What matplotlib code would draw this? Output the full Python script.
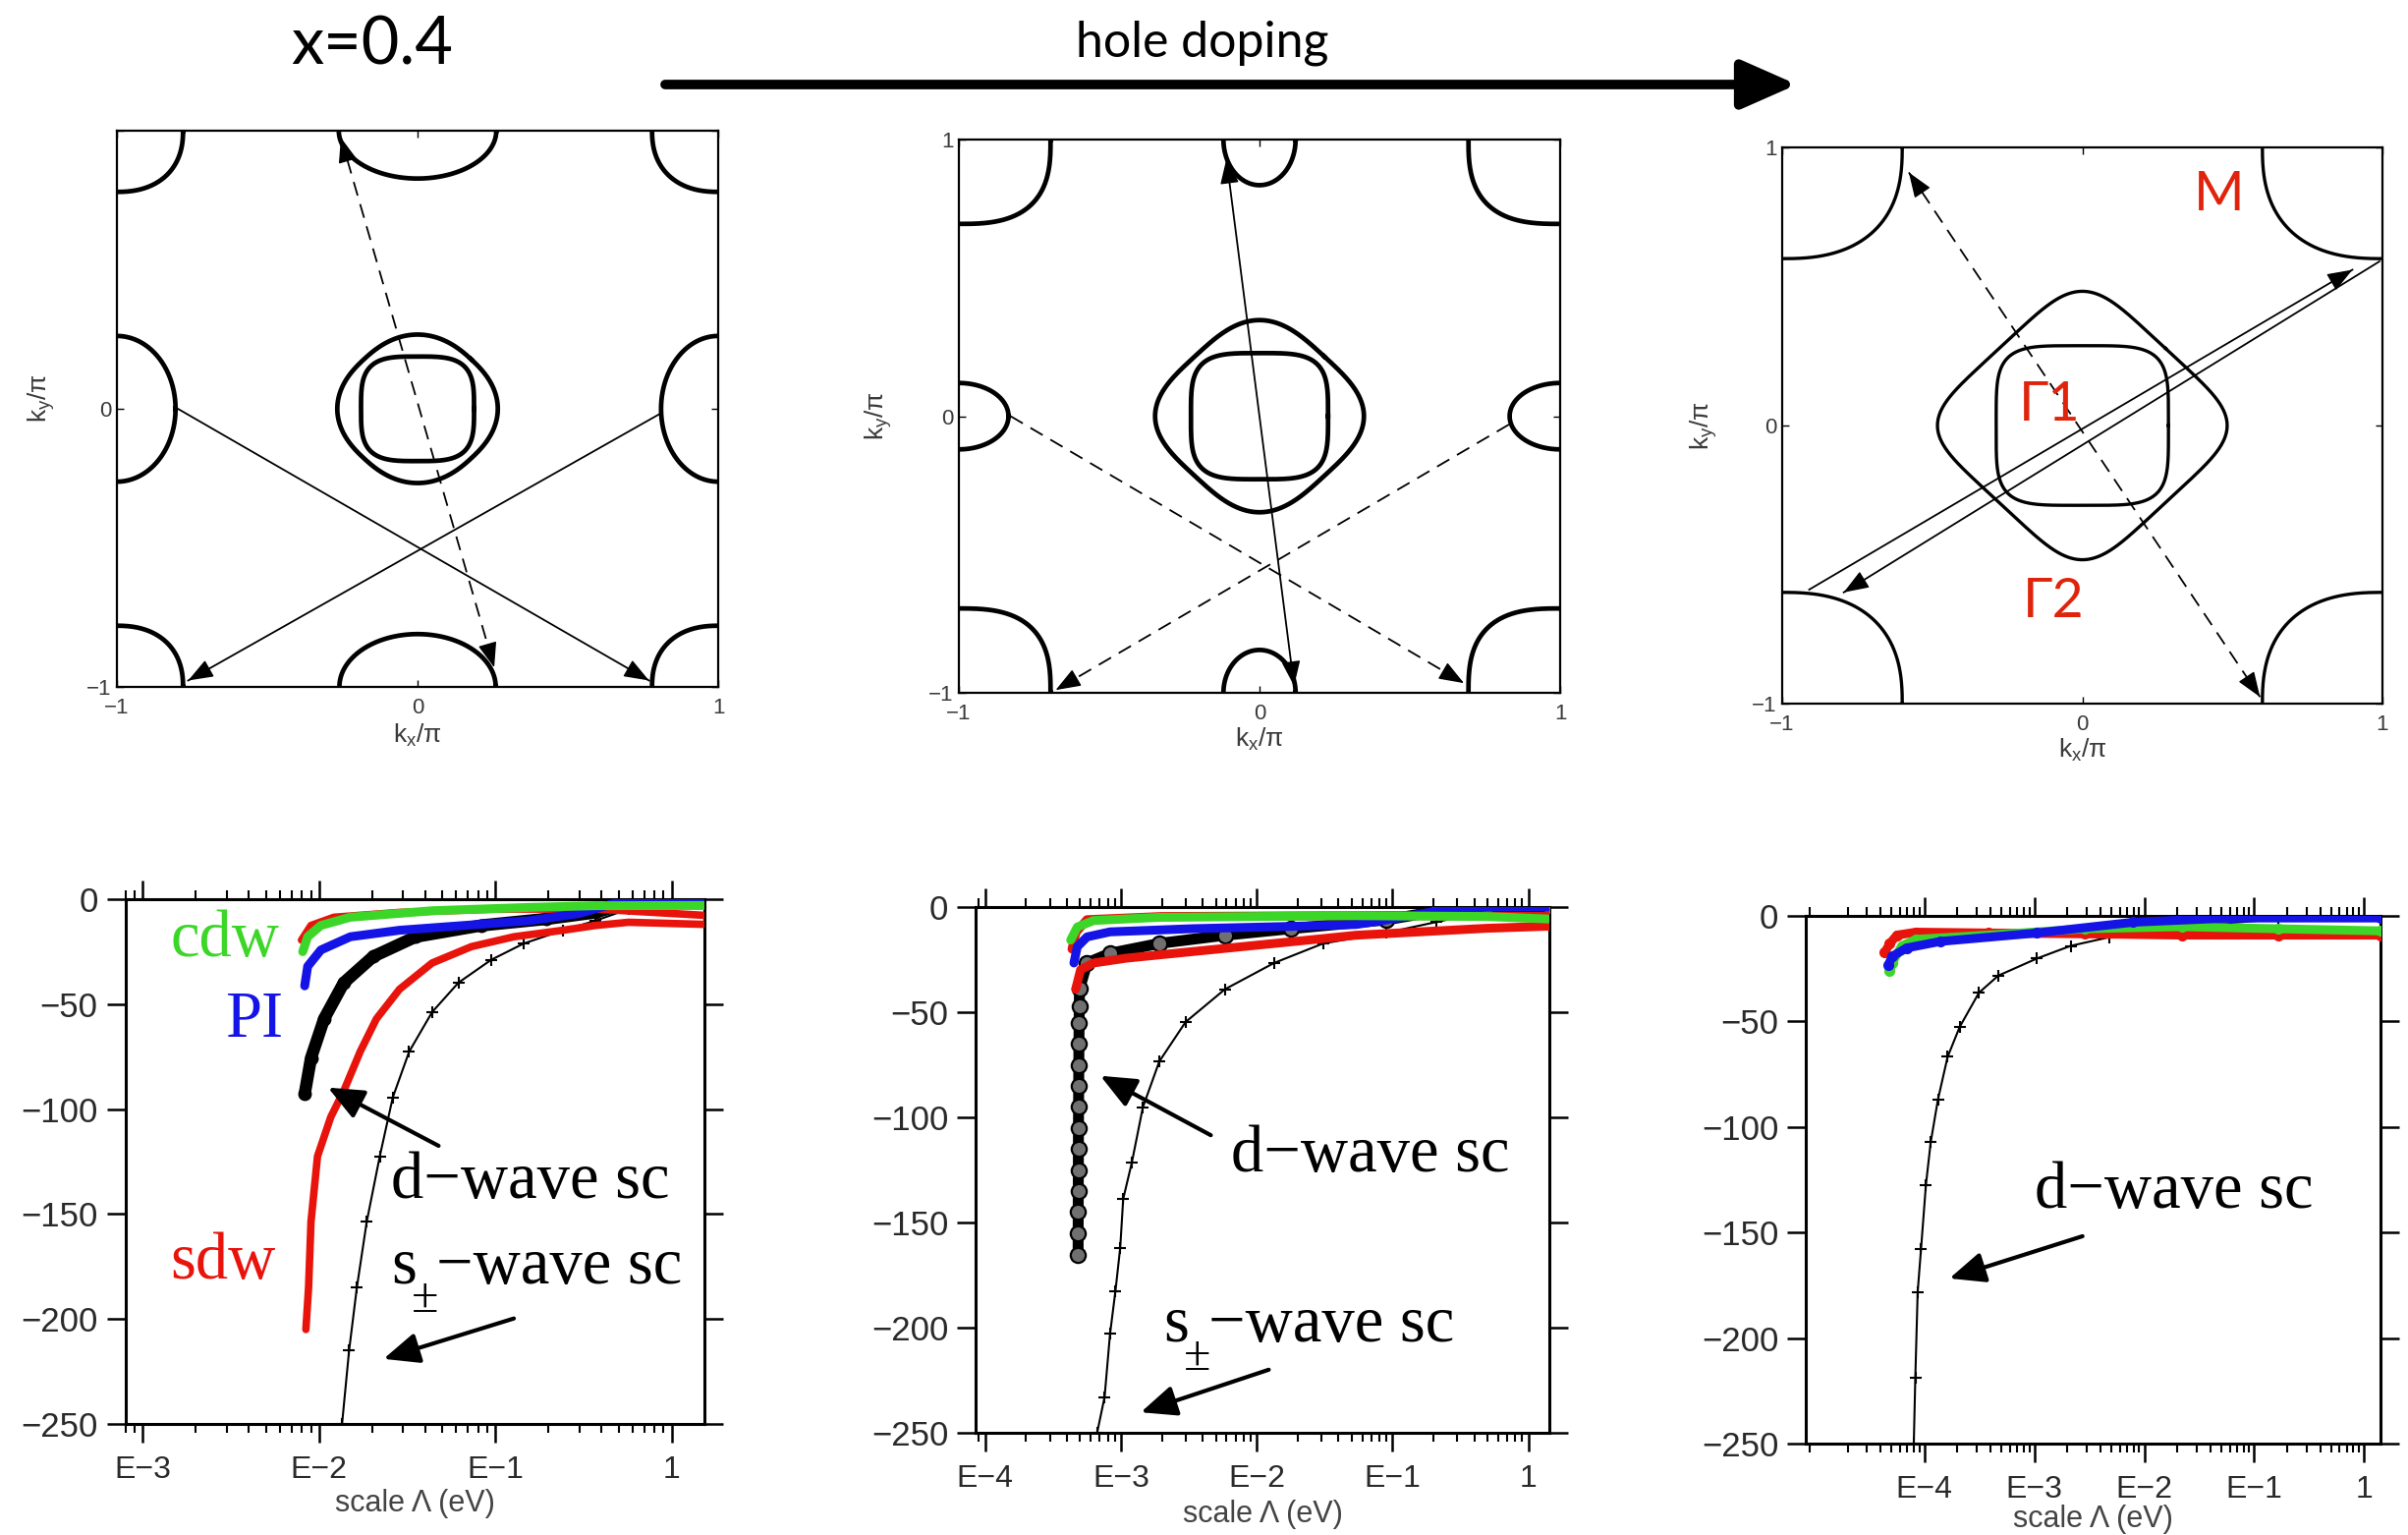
import numpy as np
import matplotlib
matplotlib.use("Agg")
import matplotlib.pyplot as plt
from matplotlib.patches import FancyArrowPatch
from matplotlib.ticker import FixedLocator, NullFormatter

plt.rcParams.update({
    "mathtext.default": "regular",
    "axes.unicode_minus": True,
})

SANS = ["Liberation Sans", "DejaVu Sans"]
SERIF = ["Liberation Serif", "DejaVu Serif"]
HUMAN = ["Lato", "Open Sans", "DejaVu Sans"]

RED, GREEN, BLUE = "#e8140c", "#3cd628", "#1414e6"
FS_RED = "#e0240c"

# ---------------------------------------------------------------------------
# Fermi surfaces (k in units of pi): pocket centre, half widths, exponent, rot
# ---------------------------------------------------------------------------
fs1_cx = [0, 0, 0, 0, -1, 1, -1, 1, -1, 1]
fs1_cy = [0, 0, 1, -1, 0, 0, 1, 1, -1, -1]
fs1_a = [0.252, 0.188, 0.262, 0.26, 0.195, 0.19, 0.22, 0.22, 0.22, 0.22]
fs1_b = [0.252, 0.188, 0.172, 0.19, 0.262, 0.262, 0.22, 0.22, 0.22, 0.22]
fs1_n = [2.4, 3.5, 2, 2, 2, 2, 2.3, 2.3, 2.3, 2.3]
fs1_rot = [45, 0, 0, 0, 0, 0, 0, 0, 0, 0]

fs2_cx = [0, 0, 0, 0, -1, 1, -1, 1, -1, 1]
fs2_cy = [0, 0, 1, -1, 0, 0, 1, 1, -1, -1]
fs2_a = [0.305, 0.228, 0.12, 0.12, 0.165, 0.168, 0.305, 0.305, 0.305, 0.305]
fs2_b = [0.305, 0.228, 0.165, 0.155, 0.12, 0.12, 0.305, 0.305, 0.305, 0.305]
fs2_n = [3.2, 3.8, 2, 2, 2, 2, 2.8, 2.8, 2.8, 2.8]
fs2_rot = [45, 0, 0, 0, 0, 0, 0, 0, 0, 0]

fs3_cx = [0, 0, -1, 1, -1, 1]
fs3_cy = [0, 0, 1, 1, -1, -1]
fs3_a = [0.392, 0.287, 0.40, 0.40, 0.40, 0.40]
fs3_b = [0.392, 0.287, 0.40, 0.40, 0.40, 0.40]
fs3_n = [5.0, 4.5, 2.5, 2.5, 2.5, 2.5]
fs3_rot = [45, 0, 0, 0, 0, 0]

# scattering vectors: start, end, line style, heads at both ends
q1_x0 = [-0.255, -0.797, 0.803]
q1_y0 = [0.975, 0.0, -0.02]
q1_x1 = [0.255, 0.77, -0.763]
q1_y1 = [-0.93, -0.977, -0.977]
q1_ls = ["--", "-", "-"]
q1_both = [True, False, False]

q2_x0 = [-0.11, -0.828, 0.83]
q2_y0 = [0.93, 0.0, -0.03]
q2_x1 = [0.115, 0.68, -0.678]
q2_y1 = [-0.975, -0.965, -0.99]
q2_ls = ["-", "--", "--"]
q2_both = [True, False, False]

q3_x0 = [-0.578, -0.91, 0.99]
q3_y0 = [0.91, -0.59, 0.59]
q3_x1 = [0.592, 0.90, -0.795]
q3_y1 = [-0.976, 0.56, -0.60]
q3_ls = ["--", "-", "-"]
q3_both = [True, False, False]

# ---------------------------------------------------------------------------
# RG flow of the leading eigenvalues versus scale Lambda (eV)
# ---------------------------------------------------------------------------
# x = 0.4
p1_sdw_lam = [0.00841, 0.00871, 0.00899, 0.00979, 0.01164, 0.0138, 0.0171,
              0.02113, 0.02858, 0.04375, 0.0731, 0.1274, 0.2421, 0.3715,
              0.5689, 1.535]
p1_sdw_val = [-205, -185, -153.7, -122.5, -103.8, -91.3, -72.6, -57.0, -42.9,
              -30.4, -22.6, -17.9, -14.8, -12.5, -11.0, -12.0]
p1_sdw2_lam = [0.00794, 0.00899, 0.01213, 0.02858, 0.103, 0.3715, 1.535]
p1_sdw2_val = [-19.5, -12.5, -8.6, -6.3, -4.7, -4.7, -7.7]
p1_cdw_lam = [0.00807, 0.00861, 0.01023, 0.01503, 0.04375, 0.1578, 0.3715,
              1.535]
p1_cdw_val = [-25.0, -17.9, -12.5, -8.6, -5.5, -3.9, -3.1, -3.0]
p1_pi_lam = [0.00828, 0.00861, 0.01023, 0.01503, 0.02858, 0.06714, 0.1578,
             0.2999, 0.4592, 0.5689, 1.535]
p1_pi_val = [-41.3, -32.0, -24.2, -17.9, -14.8, -12.5, -10.2, -6.8, -2.3,
             -0.8, 0.0]
p1_d_lam = [0.00828, 0.00899, 0.01067, 0.0138, 0.02028, 0.03532, 0.08318,
            0.1954, 0.3715, 0.5689, 1.535]
p1_d_val = [-92.8, -75.7, -57.0, -39.8, -27.3, -17.9, -12.5, -9.4, -6.3,
            -1.6, 0.0]
p1_s_lam = [0.01349, 0.01479, 0.01637, 0.01862, 0.02208, 0.02618, 0.03243,
            0.04375, 0.06166, 0.09462, 0.1449, 0.2421, 0.3715, 0.5689, 1.535]
p1_s_val = [-250, -215, -185, -153.7, -122.5, -94.4, -72.6, -53.8, -39.8,
            -28.9, -21.1, -14.8, -10.2, -4.7, -1.0]

# intermediate doping
p2_cdw_lam = [4.266e-4, 4.775e-4, 6.31e-4, 1.919e-3, 0.05395, 0.4932, 1.429]
p2_cdw_val = [-15.7, -9.5, -6.4, -4.9, -4.1, -4.5, -5.7]
p2_pi_lam = [4.508e-4, 4.775e-4, 5.636e-4, 8.318e-4, 3.342e-3, 0.01774,
             0.05395, 0.09016, 0.2109, 0.4932, 1.429]
p2_pi_val = [-26.6, -18.9, -14.2, -11.8, -10.3, -9.2, -8.3, -6.1, -2.0, 0.0,
             0.0]
p2_sdw_lam = [4.645e-4, 5.047e-4, 6.295e-4, 1.099e-3, 3.342e-3, 0.01016,
              0.0309, 0.05395, 0.4932, 1.429]
p2_sdw_val = [-39.1, -29.8, -26.6, -24.3, -21.2, -18.1, -15.0, -13.4, -10.1,
              -9.1]
p2_sdw2_lam = [4.365e-4, 4.677e-4, 5.623e-4, 1.995e-3, 0.1, 1.429]
p2_sdw2_val = [-20.0, -12.0, -6.0, -4.5, -4.0, -4.5]
p2_d_lam = [4.842e-4, 4.846e-4, 4.85e-4, 4.855e-4, 4.86e-4, 4.865e-4,
            4.87e-4, 4.88e-4, 4.89e-4, 4.9e-4, 4.91e-4, 4.925e-4, 4.94e-4,
            4.955e-4, 5.636e-4, 8.318e-4, 1.919e-3, 5.834e-3, 0.01774,
            0.09016, 0.2109, 0.4932, 1.429]
p2_d_val = [-165.3, -155, -145, -135, -125, -115, -105, -95, -85, -75, -65,
            -55, -47, -39, -26.6, -22.0, -17.3, -13.4, -10.3, -6.1, -2.0, 0.0,
            0.0]
p2_s_lam = [6.683e-4, 7.586e-4, 8.318e-4, 9.12e-4, 9.886e-4, 1.04e-3,
            1.202e-3, 1.452e-3, 1.919e-3, 2.992e-3, 5.834e-3, 0.01343,
            0.0309, 0.09016, 0.2109, 0.4932, 1.429]
p2_s_val = [-250, -233, -203, -182.5, -162, -138.8, -121.7, -95.2, -73.4,
            -54.7, -39.1, -26.6, -17.3, -12.2, -7.1, -2.0, 0.0]

# strongest hole doping
p3_sdw_lam = [4.36e-5, 4.83e-5, 5.62e-5, 8.42e-5, 3.838e-4, 2.9e-3, 0.02188,
              0.165, 1.409]
p3_sdw_val = [-17.2, -13.2, -9.1, -7.7, -8.1, -8.5, -9.1, -9.1, -9.1]
p3_cdw_lam = [4.83e-5, 5.08e-5, 6.22e-5, 8.42e-5, 3.838e-4, 2.9e-3, 0.02188,
              0.165, 1.409]
p3_cdw_val = [-26.3, -22.3, -14.2, -11.1, -9.1, -6.1, -5.1, -6.1, -7.1]
p3_pi_lam = [4.69e-5, 5.08e-5, 6.89e-5, 1.396e-4, 1.054e-3, 7.96e-3, 0.0601,
             1.409]
p3_pi_val = [-23.3, -19.2, -15.2, -12.1, -8.1, -3.0, -1.0, -1.0]
p3_d_lam = [8.0e-5, 8.26e-5, 8.68e-5, 9.31e-5, 1.031e-4, 1.14e-4, 1.327e-4,
            1.625e-4, 2.093e-4, 3.134e-4, 4.7e-4, 1.054e-3, 2.14e-3, 4.8e-3,
            0.02188, 0.165, 1.409]
p3_d_val = [-250, -218.6, -178.1, -157.9, -127.5, -107.3, -87.0, -66.8, -52.6,
            -36.4, -28.3, -20.2, -14.2, -10.1, -5.1, -1.6, -0.4]

decade_labels = {1e-4: "E\u22124", 1e-3: "E\u22123", 1e-2: "E\u22122",
                 1e-1: "E\u22121", 1.0: "1"}
y_ticks = [0, -50, -100, -150, -200, -250]

W, H = 2451, 1562
fig = plt.figure(figsize=(W / 100, H / 100), dpi=100)


def px_rect(x0, y0, x1, y1):
    """Axes rectangle from pixel edges (origin top-left)."""
    return [x0 / W, 1 - y1 / H, (x1 - x0) / W, (y1 - y0) / H]


def pocket(cx, cy, a, b, n, rot, npts=600):
    t = np.linspace(0, 2 * np.pi, npts)
    c, s = np.cos(t), np.sin(t)
    u = a * np.sign(c) * np.abs(c) ** (2.0 / n)
    v = b * np.sign(s) * np.abs(s) ** (2.0 / n)
    r = np.deg2rad(rot)
    return cx + u * np.cos(r) - v * np.sin(r), cy + u * np.sin(r) + v * np.cos(r)


def head(ax, x0, y0, x1, y1):
    """Filled arrow head at (x1, y1) pointing away from (x0, y0)."""
    ax.annotate("", xy=(x1, y1),
                xytext=(x1 - 0.02 * (x1 - x0), y1 - 0.02 * (y1 - y0)),
                arrowprops=dict(arrowstyle="-|>,head_length=1.6,head_width=0.6",
                                mutation_scale=10, lw=1.0, color="k",
                                shrinkA=0, shrinkB=0))


def fs_panel(rect, cx, cy, a, b, n, rot, lw, qx0, qy0, qx1, qy1, qls, qboth,
             top_label=True):
    ax = fig.add_axes(rect)
    ax.set_xlim(-1, 1)
    ax.set_ylim(-1, 1)
    for i in range(len(cx)):
        x, y = pocket(cx[i], cy[i], a[i], b[i], n[i], rot[i])
        ax.plot(x, y, color="k", lw=lw, solid_joinstyle="round")
    for i in range(len(qx0)):
        ax.plot([qx0[i], qx1[i]], [qy0[i], qy1[i]], color="k", lw=1.3,
                ls=qls[i], dashes=(8, 5) if qls[i] == "--" else (None, None))
        head(ax, qx0[i], qy0[i], qx1[i], qy1[i])
        if qboth[i]:
            head(ax, qx1[i], qy1[i], qx0[i], qy0[i])
    ax.set_xticks([-1, 0, 1])
    ax.set_xticklabels(["\u22121", "0", "1"])
    ax.set_yticks([-1, 0, 1])
    ax.set_yticklabels(["\u22121", "0", "1" if top_label else ""])
    ax.tick_params(direction="in", length=5, width=1.0, top=True, right=True,
                   labelsize=16, labelcolor="#3a3a3a")
    ax.tick_params(axis="x", pad=8)
    ax.tick_params(axis="y", pad=4)
    for lab in ax.get_xticklabels() + ax.get_yticklabels():
        lab.set_family(SANS)
    for sp in ax.spines.values():
        sp.set_linewidth(1.6)
    return ax


def flow_panel(rect, xlim):
    ax = fig.add_axes(rect)
    ax.set_xscale("log")
    ax.set_xlim(*xlim)
    ax.set_ylim(-250, 0)
    majors = [d for d in decade_labels if xlim[0] <= d <= xlim[1]]
    minors = [m * 10.0 ** e for e in range(-6, 1) for m in range(2, 10)
              if xlim[0] <= m * 10.0 ** e <= xlim[1]]
    ax.xaxis.set_major_locator(FixedLocator(majors))
    ax.set_xticklabels([decade_labels[d] for d in majors])
    ax.xaxis.set_minor_locator(FixedLocator(minors))
    ax.xaxis.set_minor_formatter(NullFormatter())
    ax.set_yticks(y_ticks)
    ax.set_yticklabels([f"{v:d}".replace("-", "\u2212") for v in y_ticks])
    ax.tick_params(which="both", direction="out", top=True, right=True,
                   labeltop=False, labelright=False)
    ax.tick_params(which="major", length=14, width=1.8, labelcolor="#2a2a2a")
    ax.tick_params(axis="x", which="major", labelsize=23, pad=9)
    ax.tick_params(axis="y", which="major", labelsize=25, pad=6)
    ax.tick_params(which="minor", length=6.5, width=1.5)
    for lab in ax.get_xticklabels() + ax.get_yticklabels():
        lab.set_family(SANS)
    for sp in ax.spines.values():
        sp.set_linewidth(2.2)
    return ax


def colour_line(ax, lam, val, color, z, lw=6.5, marker=None):
    ax.plot(lam, val, color=color, lw=lw, zorder=z, solid_capstyle="round",
            marker=marker, ms=7, mec=color, mfc=color)


def s_line(ax, lam, val, z=3):
    ax.plot(lam, val, color="k", lw=1.5, marker="+", ms=8, mew=1.5, zorder=z)


NOTE_SIZE = 48


def note(ax, x, y, s, color="k"):
    ax.text(x, y, s, transform=ax.transAxes, ha="left", va="baseline",
            fontsize=NOTE_SIZE, color=color, family=SERIF, zorder=10)


def note_spm(ax, x, y):
    """'s' with a lowered '±' followed by '−wave sc'."""
    note(ax, x, y, "s")
    ax.annotate("\u00b1", xy=(x, y), xycoords="axes fraction",
                xytext=(15, -21), textcoords="offset points", ha="left",
                va="baseline", fontsize=36, family=SERIF, zorder=10)
    ax.annotate("\u2212wave sc", xy=(x, y), xycoords="axes fraction",
                xytext=(33, 0), textcoords="offset points", ha="left",
                va="baseline", fontsize=NOTE_SIZE, family=SERIF, zorder=10)


def pointer(ax, x0, y0, x1, y1):
    ax.add_patch(FancyArrowPatch(
        (x0, y0), (x1, y1), transform=ax.transAxes,
        arrowstyle="-|>,head_length=2.2,head_width=0.95", mutation_scale=10,
        lw=3.0, color="k", shrinkA=0, shrinkB=0, zorder=10))


def fs_labels(ax, ylab_x, ylab_y, xlab_y):
    ax.text(0.5, xlab_y, "$k_x/π$", transform=ax.transAxes, ha="center",
            va="center", fontsize=19, color="#3a3a3a", family=SANS)
    ax.text(ylab_x, ylab_y, "$k_y/π$", transform=ax.transAxes, ha="center",
            va="center", rotation=90, fontsize=19, color="#3a3a3a", family=SANS)


def flow_xlabel(ax, y):
    ax.text(0.5, y, "scale Λ (eV)", transform=ax.transAxes, ha="center",
            va="center", fontsize=22, color="#444444", family=SANS)


# ---------------- top row: Fermi surfaces ----------------
ax1 = fs_panel(px_rect(119, 133, 731, 699), fs1_cx, fs1_cy, fs1_a, fs1_b,
               fs1_n, fs1_rot, 3.4, q1_x0, q1_y0, q1_x1, q1_y1, q1_ls, q1_both,
               top_label=False)
fs_labels(ax1, -0.125, 0.52, -0.088)

ax2 = fs_panel(px_rect(976, 142, 1588, 705), fs2_cx, fs2_cy, fs2_a, fs2_b,
               fs2_n, fs2_rot, 3.4, q2_x0, q2_y0, q2_x1, q2_y1, q2_ls, q2_both)
fs_labels(ax2, -0.134, 0.50, -0.084)

ax3 = fs_panel(px_rect(1814, 150, 2425, 716), fs3_cx, fs3_cy, fs3_a, fs3_b,
               fs3_n, fs3_rot, 2.4, q3_x0, q3_y0, q3_x1, q3_y1, q3_ls, q3_both)
fs_labels(ax3, -0.13, 0.50, -0.084)
for s, x, y in [("M", 0.457, 0.83), ("Γ1", -0.11, 0.074), ("Γ2", -0.097, -0.633)]:
    ax3.text(x, y, s, ha="center", va="center", fontsize=40, color=FS_RED,
             family=HUMAN)

# ---------------- bottom row: RG flows ----------------
b1 = flow_panel(px_rect(127.5, 915, 717, 1449), (10 ** -3.10, 10 ** 0.186))
s_line(b1, p1_s_lam, p1_s_val, z=2)
colour_line(b1, p1_sdw_lam, p1_sdw_val, RED, 3, lw=5.5)
b1.plot(p1_d_lam, p1_d_val, color="k", lw=9, zorder=4, solid_capstyle="round",
        marker="o", ms=9)
colour_line(b1, p1_sdw2_lam, p1_sdw2_val, RED, 5, lw=5.5)
colour_line(b1, p1_pi_lam, p1_pi_val, BLUE, 6)
colour_line(b1, p1_cdw_lam, p1_cdw_val, GREEN, 7)
note(b1, 0.078, 0.891, "cdw", GREEN)
note(b1, 0.173, 0.737, "PI", BLUE)
note(b1, 0.078, 0.278, "sdw", RED)
note(b1, 0.459, 0.430, "d\u2212wave sc")
note_spm(b1, 0.459, 0.268)
pointer(b1, 0.541, 0.530, 0.350, 0.641)
pointer(b1, 0.671, 0.201, 0.446, 0.124)
flow_xlabel(b1, -0.152)

b2 = flow_panel(px_rect(993, 923, 1577, 1458), (10 ** -4.07, 10 ** 0.155))
s_line(b2, p2_s_lam, p2_s_val, z=2)
b2.plot(p2_d_lam, p2_d_val, color="k", lw=8, zorder=3, marker="o", ms=11,
        mfc="#707070", mec="k", mew=1.6, solid_capstyle="round")
colour_line(b2, p2_sdw2_lam, p2_sdw2_val, RED, 4)
colour_line(b2, p2_sdw_lam, p2_sdw_val, RED, 4)
colour_line(b2, p2_pi_lam, p2_pi_val, BLUE, 5)
colour_line(b2, p2_cdw_lam, p2_cdw_val, GREEN, 6)
note(b2, 0.445, 0.497, "d\u2212wave sc")
note_spm(b2, 0.327, 0.174)
pointer(b2, 0.410, 0.566, 0.2175, 0.679)
pointer(b2, 0.511, 0.120, 0.288, 0.039)
flow_xlabel(b2, -0.155)

b3 = flow_panel(px_rect(1838, 932, 2423, 1469), (10 ** -5.08, 10 ** 0.15))
s_line(b3, p3_d_lam, p3_d_val, z=2)
colour_line(b3, p3_sdw_lam, p3_sdw_val, RED, 3, marker="o")
colour_line(b3, p3_cdw_lam, p3_cdw_val, GREEN, 4, marker="o")
colour_line(b3, p3_pi_lam, p3_pi_val, BLUE, 5, marker="o")
note(b3, 0.398, 0.447, "d\u2212wave sc")
pointer(b3, 0.4815, 0.393, 0.250, 0.313)
flow_xlabel(b3, -0.143)

# ---------------- header ----------------
fig.text(379 / W, 1 - 46 / H, "x=0.4", ha="center", va="center", fontsize=48,
         color="k", family=HUMAN)
fig.text(1224 / W, 1 - 44 / H, "hole doping", ha="center", va="center",
         fontsize=36, color="k", family=HUMAN)
fig.add_artist(FancyArrowPatch(
    (677 / W, 1 - 86 / H), (1829 / W, 1 - 86 / H), transform=fig.transFigure,
    arrowstyle="-|>,head_length=3.4,head_width=1.5", mutation_scale=10,
    lw=7, color="k", shrinkA=0, shrinkB=0))

fig.savefig("out.png", dpi=100)
